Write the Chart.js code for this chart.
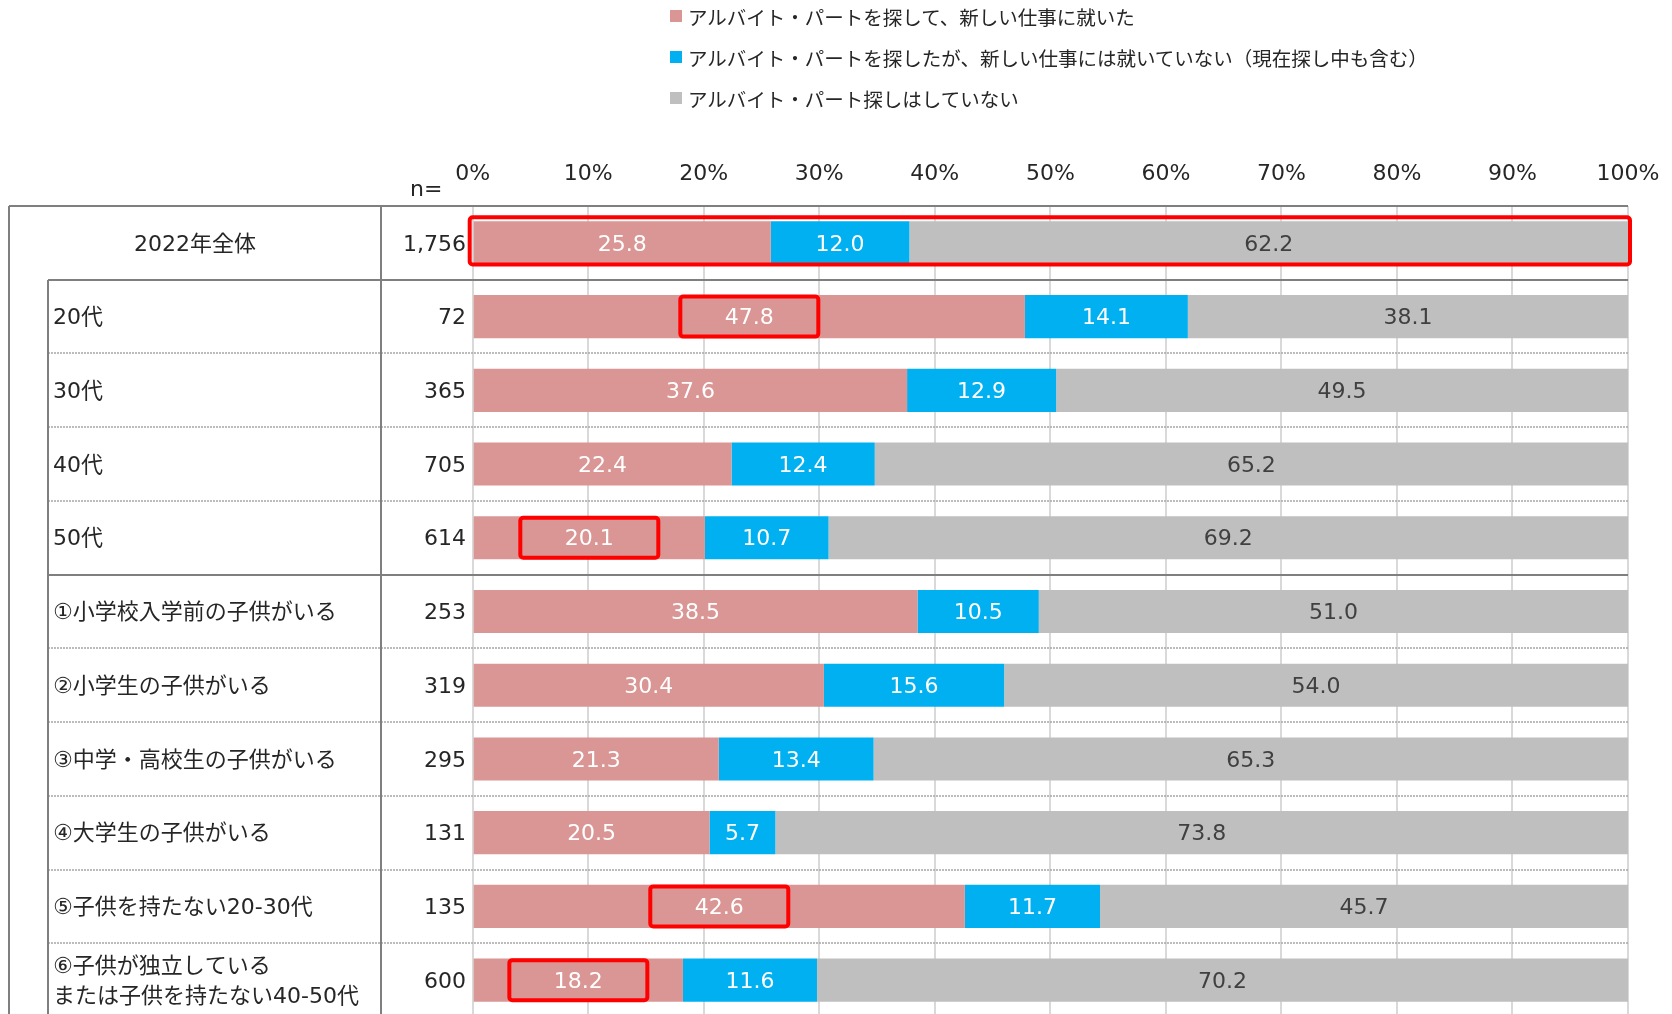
<!DOCTYPE html>
<html lang="ja">
<head>
<meta charset="utf-8">
<script src="https://cdn.jsdelivr.net/npm/chart.js@4/dist/chart.umd.min.js"></script>
<style>
html, body { margin:0; padding:0; background:#fff; overflow:hidden; }
#wrap { position:relative; width:1672px; height:1014px; }
#legend { position:absolute; left:670px; top:0; font-family:"Noto Sans CJK JP", sans-serif; font-size:19.5px; color:#262626; }
.item { position:absolute; left:0; height:28px; display:flex; align-items:center; white-space:nowrap; }
.sw { width:12px; height:12px; margin-right:6px; flex:none; }
canvas { position:absolute; left:0; top:0; }
</style>
</head>
<body>
<div id="wrap">
  <canvas id="chart" width="1672" height="1017"></canvas>
  <div id="legend"></div>
</div>
<script>
// rows (top to bottom)
var categories = ["2022年全体", "20代", "30代", "40代", "50代",
  "①小学校入学前の子供がいる", "②小学生の子供がいる", "③中学・高校生の子供がいる",
  "④大学生の子供がいる", "⑤子供を持たない20-30代",
  ["⑥子供が独立している", "または子供を持たない40-50代"]];
var nValues = ["1,756", "72", "365", "705", "614", "253", "319", "295", "131", "135", "600"];

var seriesNames = ["アルバイト・パートを探して、新しい仕事に就いた",
  "アルバイト・パートを探したが、新しい仕事には就いていない（現在探し中も含む）",
  "アルバイト・パート探しはしていない"];
var foundJob   = [25.8, 47.8, 37.6, 22.4, 20.1, 38.5, 30.4, 21.3, 20.5, 42.6, 18.2];
var notFound   = [12.0, 14.1, 12.9, 12.4, 10.7, 10.5, 15.6, 13.4, 5.7, 11.7, 11.6];
var notLooking = [62.2, 38.1, 49.5, 65.2, 69.2, 51.0, 54.0, 65.3, 73.8, 45.7, 70.2];

var xTicks = [0, 10, 20, 30, 40, 50, 60, 70, 80, 90, 100];

// red marks in the original
var boxWholeRows = [0];
var boxFirstLabelRows = [1, 4, 9, 10];
// solid separator above these rows, dotted above the others
var groupStarts = [1, 5];

var colors = ["#d99694", "#00b0f0", "#bfbfbf"];
var labelColors = ["#ffffff", "#ffffff", "#404040"];
var FONT = '"DejaVu Sans", "Noto Sans CJK JP", sans-serif';

// html legend
var lg = document.getElementById("legend");
var legendTops = [2, 43, 84];
seriesNames.forEach(function(name, i) {
  var d = document.createElement("div");
  d.className = "item";
  d.style.top = legendTops[i] + "px";
  d.innerHTML = '<span class="sw" style="background:' + colors[i] + '"></span><span>' + name + '</span>';
  lg.appendChild(d);
});

var tablePlugin = {
  id: "table",
  beforeDatasetsDraw: function(chart) {
    var ctx = chart.ctx, ys = chart.scales.y, area = chart.chartArea;
    var half = (ys.getPixelForValue(1) - ys.getPixelForValue(0)) / 2;
    var bottom = chart.height;
    ctx.save();
    // row separators
    for (var i = 1; i < categories.length; i++) {
      var yy = Math.round(ys.getPixelForValue(i) - half);
      ctx.beginPath();
      if (groupStarts.indexOf(i) >= 0) {
        ctx.setLineDash([]);
        ctx.strokeStyle = "#7f7f7f";
        ctx.lineWidth = 2;
      } else {
        ctx.setLineDash([2, 1]);
        ctx.strokeStyle = "#a6a6a6";
        ctx.lineWidth = 1.5;
      }
      ctx.moveTo(48, yy);
      ctx.lineTo(area.right, yy);
      ctx.stroke();
    }
    ctx.setLineDash([]);
    ctx.strokeStyle = "#7f7f7f";
    ctx.lineWidth = 2;
    ctx.beginPath();
    ctx.moveTo(9, area.top); ctx.lineTo(area.right, area.top);
    ctx.moveTo(9, area.top); ctx.lineTo(9, bottom);
    ctx.moveTo(381, area.top); ctx.lineTo(381, bottom);
    var g1 = Math.round(ys.getPixelForValue(1) - half);
    ctx.moveTo(48, g1); ctx.lineTo(48, bottom);
    ctx.stroke();

    // row labels and n
    ctx.font = "22px " + FONT;
    ctx.fillStyle = "#262626";
    ctx.textBaseline = "middle";
    categories.forEach(function(c, i) {
      var y = ys.getPixelForValue(i);
      var lines = Array.isArray(c) ? c : [c];
      lines.forEach(function(t, k) {
        var ly = y + (k - (lines.length - 1) / 2) * 30 + 2;
        if (i === 0) { ctx.textAlign = "center"; ctx.fillText(t, 195, ly); }
        else { ctx.textAlign = "left"; ctx.fillText(t, 53, ly); }
      });
      ctx.textAlign = "right";
      ctx.fillText(nValues[i], 466, y + 2);
    });
    ctx.textAlign = "left";
    ctx.fillText("n=", 410, 190);
    ctx.restore();
  },
  afterDatasetsDraw: function(chart) {
    var ctx = chart.ctx;
    ctx.save();
    ctx.font = "22px " + FONT;
    ctx.textAlign = "center";
    ctx.textBaseline = "middle";
    chart.data.datasets.forEach(function(ds, di) {
      chart.getDatasetMeta(di).data.forEach(function(bar, i) {
        var p = bar.getProps(["x", "base", "y"], true);
        ctx.fillStyle = labelColors[di];
        ctx.fillText(ds.data[i].toFixed(1), (p.x + p.base) / 2, p.y + 2);
      });
    });
    // red boxes
    ctx.strokeStyle = "#ff0000";
    ctx.lineWidth = 4;
    function box(x, y, w, h) {
      ctx.beginPath();
      if (ctx.roundRect) ctx.roundRect(x, y, w, h, 3); else ctx.rect(x, y, w, h);
      ctx.stroke();
    }
    boxWholeRows.forEach(function(i) {
      var first = chart.getDatasetMeta(0).data[i].getProps(["base", "y", "height"], true);
      var last = chart.getDatasetMeta(2).data[i].getProps(["x"], true);
      box(first.base - 4, first.y - first.height / 2 - 4, last.x - first.base + 6, first.height + 4);
    });
    boxFirstLabelRows.forEach(function(i) {
      var p = chart.getDatasetMeta(0).data[i].getProps(["x", "base", "y", "height"], true);
      var cx = (p.x + p.base) / 2;
      box(cx - 69, p.y - 20, 138, 40);
    });
    ctx.restore();
  }
};

Chart.defaults.font.family = FONT;

new Chart(document.getElementById("chart"), {
  type: "bar",
  data: {
    labels: categories,
    datasets: [
      { label: seriesNames[0], data: foundJob, backgroundColor: colors[0] },
      { label: seriesNames[1], data: notFound, backgroundColor: colors[1] },
      { label: seriesNames[2], data: notLooking, backgroundColor: colors[2] }
    ]
  },
  options: {
    indexAxis: "y",
    responsive: false,
    animation: false,
    layout: { padding: { left: 472.7, right: 44, top: 141.6, bottom: 0 } },
    datasets: { bar: { barPercentage: 0.585, categoryPercentage: 1 } },
    plugins: { legend: { display: false }, tooltip: { enabled: false } },
    scales: {
      x: {
        position: "top",
        stacked: true,
        min: 0, max: 100,
        afterBuildTicks: function(s) { s.ticks = xTicks.map(function(v) { return { value: v }; }); },
        afterFit: function(s) { s.paddingLeft = 0; s.paddingRight = 0; },
        grid: { color: "#d9d9d9", lineWidth: 2, drawTicks: false },
        border: { display: false },
        ticks: { padding: 19, color: "#262626", font: { size: 22 },
          callback: function(v) { return v + "%"; } }
      },
      y: { stacked: true, display: false }
    }
  },
  plugins: [tablePlugin]
});
</script>
</body>
</html>
